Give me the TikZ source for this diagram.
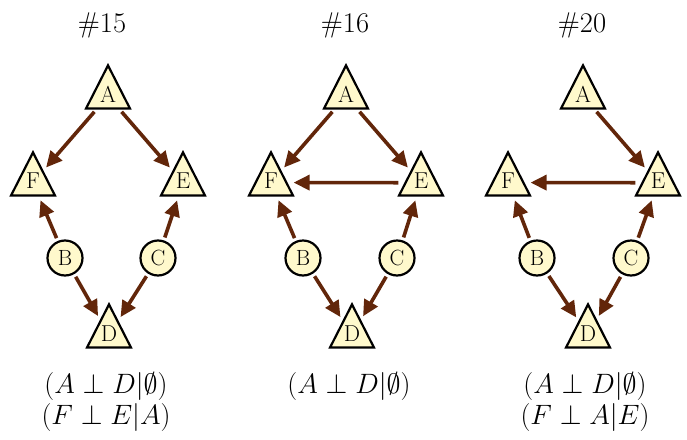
\RequirePackage{fix-cm}
\documentclass[tikz,border=0pt]{standalone}
\usepackage{fontspec}
\usetikzlibrary{shapes.geometric,arrows.meta}
\definecolor{nodefill}{RGB}{255,249,204}
\definecolor{arrowbrown}{RGB}{98,38,10}
\tikzset{
  tri/.style={isosceles triangle, isosceles triangle apex angle=54,
    shape border rotate=90, draw=black, fill=nodefill, line width=2.2pt,
    minimum height=43pt, minimum width=43pt, inner sep=0pt, anchor=apex,
    text depth=4pt, font=\fontsize{23}{23}\selectfont},
  circ/.style={circle, draw=black, fill=nodefill, line width=2.2pt,
    minimum size=35pt, inner sep=0pt, font=\fontsize{22}{22}\selectfont},
  arr/.style={draw=arrowbrown, line width=3.6pt,
    -{Triangle[length=16pt,width=15pt]}, shorten <=3pt, shorten >=4pt},
  hz/.style={shorten <=6pt, shorten >=6pt},
  title/.style={font=\fontsize{28.5}{28.5}\selectfont, anchor=base},
  cond/.style={font=\fontsize{28}{30}\selectfont, anchor=base}
}
\begin{document}
\begin{tikzpicture}[x=1pt,y=-1pt]
\useasboundingbox (0,0) rectangle (687,439);
% Panel 1
\node[title] (t1) at (102,32) {\#15};
\node[tri] (A1) at (108,63) {A};
\node[tri] (F1) at (33,150) {F};
\node[tri] (E1) at (183,150) {E};
\node[tri] (D1) at (109,302) {D};
\node[circ] (B1) at (65,258) {B};
\node[circ] (C1) at (158,258) {C};
\draw[arr] (A1) -- (F1);
\draw[arr] (A1) -- (E1);
\draw[arr] (B1) -- (F1);
\draw[arr] (B1) -- (D1);
\draw[arr] (C1) -- (E1);
\draw[arr] (C1) -- (D1);
\node[cond] (c1a) at (106,393) {$(A\perp D|\emptyset)$};
\node[cond] (c1b) at (106,424) {$(F\perp E|A)$};
% Panel 2
\node[title] (t2) at (345,32) {\#16};
\node[tri] (A2) at (346,63) {A};
\node[tri] (F2) at (271,150) {F};
\node[tri] (E2) at (421,150) {E};
\node[tri] (D2) at (352,302) {D};
\node[circ] (B2) at (303,258) {B};
\node[circ] (C2) at (397,258) {C};
\draw[arr] (A2) -- (F2);
\draw[arr] (A2) -- (E2);
\draw[arr,hz] (E2) -- (F2);
\draw[arr] (B2) -- (F2);
\draw[arr] (B2) -- (D2);
\draw[arr] (C2) -- (E2);
\draw[arr] (C2) -- (D2);
\node[cond] (c2a) at (349,393) {$(A\perp D|\emptyset)$};
% Panel 3
\node[title] (t3) at (582,32) {\#20};
\node[tri] (A3) at (583,63) {A};
\node[tri] (F3) at (508,150) {F};
\node[tri] (E3) at (658,150) {E};
\node[tri] (D3) at (588,302) {D};
\node[circ] (B3) at (537,258) {B};
\node[circ] (C3) at (631,258) {C};
\draw[arr] (A3) -- (E3);
\draw[arr,hz] (E3) -- (F3);
\draw[arr] (B3) -- (F3);
\draw[arr] (B3) -- (D3);
\draw[arr] (C3) -- (E3);
\draw[arr] (C3) -- (D3);
\node[cond] (c3a) at (585,393) {$(A\perp D|\emptyset)$};
\node[cond] (c3b) at (585,424) {$(F\perp A|E)$};
\end{tikzpicture}
\end{document}
